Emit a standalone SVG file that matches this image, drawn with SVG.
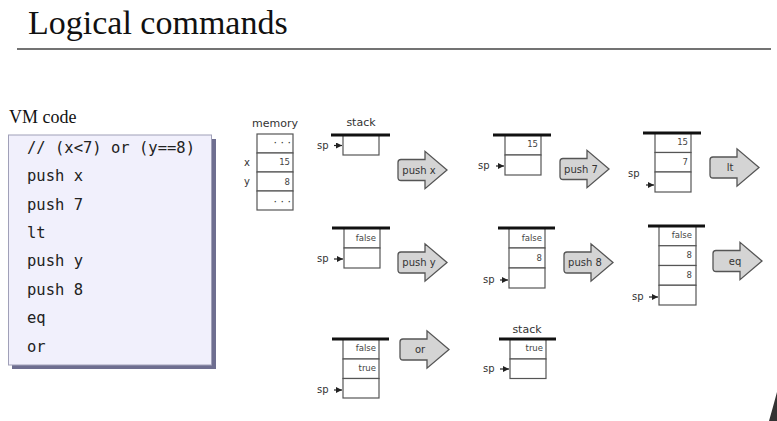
<svg xmlns="http://www.w3.org/2000/svg" width="777" height="421" viewBox="0 0 777 421">
<defs>
<style>
.title{font-family:"Liberation Serif","Times New Roman",serif;font-size:34px;fill:#111}
.sub{font-family:"Liberation Serif","Times New Roman",serif;font-size:18px;fill:#111}
.code{font-family:"DejaVu Sans Mono",monospace;font-size:15.5px;fill:#222}
.lbl{font-family:"DejaVu Sans",sans-serif;font-size:11px;fill:#333}
.sp{font-family:"DejaVu Sans",sans-serif;font-size:10px;fill:#333}
.val{font-family:"DejaVu Sans",sans-serif;font-size:8.5px;fill:#444;text-anchor:end}
.dots{font-family:"DejaVu Sans",sans-serif;font-size:11px;fill:#333;text-anchor:end}
.cell{fill:#fff;stroke:#555;stroke-width:1.2}
.bar{stroke:#111;stroke-width:3}
.arr{fill:#d4d4d4;stroke:#555;stroke-width:1.3}
.atxt{font-family:"DejaVu Sans",sans-serif;font-size:10px;fill:#333;text-anchor:middle}
.spl{stroke:#222;stroke-width:1.2;marker-end:url(#tri)}
</style>
<marker id="tri" viewBox="0 0 6 6" refX="6" refY="3" markerWidth="6" markerHeight="6" markerUnits="userSpaceOnUse" orient="auto">
<path d="M0,0 L6,3 L0,6 Z" fill="#222"/>
</marker>
<path id="bigarrow" d="M3,-10.5 H27 V-18.7 L49,0 L27,18.7 V10.5 H3 Q0,10.5 0,7.5 V-7.5 Q0,-10.5 3,-10.5 Z"/>
</defs>
<rect width="777" height="421" fill="#fff"/>

<g id="title">
<text class="title" x="28" y="34">Logical commands</text>
<line x1="17" y1="49" x2="771" y2="49" stroke="#444" stroke-width="1.6"/>
</g>

<g id="vmcode">
<text class="sub" x="9" y="123">VM code</text>
<rect x="12" y="139" width="204" height="230" fill="#6e6e90"/>
<rect x="8.5" y="135" width="203" height="230" fill="#f1f0fc" stroke="#a0a0b8" stroke-width="1"/>
<text class="code" x="27" y="153">// (x&lt;7) or (y==8)</text>
<text class="code" x="27" y="181">push x</text>
<text class="code" x="27" y="210">push 7</text>
<text class="code" x="27" y="238">lt</text>
<text class="code" x="27" y="266">push y</text>
<text class="code" x="27" y="295">push 8</text>
<text class="code" x="27" y="323">eq</text>
<text class="code" x="27" y="352">or</text>
</g>

<g id="memory">
<text class="lbl" x="275" y="127" text-anchor="middle">memory</text>
<rect class="cell" x="257" y="134" width="36" height="19"/>
<rect class="cell" x="257" y="153" width="36" height="19"/>
<rect class="cell" x="257" y="172" width="36" height="19"/>
<rect class="cell" x="257" y="191" width="36" height="19"/>
<text class="dots" x="291" y="146">· · ·</text>
<text class="val" x="290" y="165">15</text>
<text class="val" x="290" y="185">8</text>
<text class="dots" x="291" y="205">· · ·</text>
<text class="sp" x="244" y="166">x</text>
<text class="sp" x="244" y="185">y</text>
</g>

<g id="stack1">
<text class="lbl" x="361" y="126" text-anchor="middle">stack</text>
<rect class="cell" x="343" y="135" width="36" height="20"/>
<line class="bar" x1="331" y1="135" x2="390" y2="135"/>
<text class="sp" x="317" y="149">sp</text>
<line class="spl" x1="334" y1="145.5" x2="342" y2="145.5"/>
</g>

<g id="stack2">
<rect class="cell" x="505" y="135" width="36" height="20"/>
<rect class="cell" x="505" y="155" width="36" height="20"/>
<line class="bar" x1="493" y1="135" x2="551" y2="135"/>
<text class="val" x="538" y="147">15</text>
<text class="sp" x="478" y="169">sp</text>
<line class="spl" x1="496" y1="166" x2="504" y2="166"/>
</g>

<g id="stack3">
<rect class="cell" x="655" y="133" width="36" height="19.5"/>
<rect class="cell" x="655" y="152.5" width="36" height="19.5"/>
<rect class="cell" x="655" y="172" width="36" height="20"/>
<line class="bar" x1="643" y1="133" x2="701" y2="133"/>
<text class="val" x="688" y="145">15</text>
<text class="val" x="688" y="165">7</text>
<text class="sp" x="628" y="177">sp</text>
<line class="spl" x1="646" y1="185" x2="654" y2="185"/>
</g>

<g id="stack4">
<rect class="cell" x="344" y="228" width="36" height="20"/>
<rect class="cell" x="344" y="248" width="36" height="20"/>
<line class="bar" x1="332" y1="228" x2="390" y2="228"/>
<text class="val" x="376" y="241">false</text>
<text class="sp" x="317" y="262">sp</text>
<line class="spl" x1="334" y1="259" x2="343" y2="259"/>
</g>

<g id="stack5">
<rect class="cell" x="509" y="228" width="36" height="20"/>
<rect class="cell" x="509" y="248" width="36" height="20"/>
<rect class="cell" x="509" y="268" width="36" height="20"/>
<line class="bar" x1="498" y1="228" x2="555" y2="228"/>
<text class="val" x="542" y="241">false</text>
<text class="val" x="542" y="261">8</text>
<text class="sp" x="483" y="283">sp</text>
<line class="spl" x1="500" y1="280" x2="508" y2="280"/>
</g>

<g id="stack6">
<rect class="cell" x="659" y="226" width="37" height="19.75"/>
<rect class="cell" x="659" y="245.75" width="37" height="19.75"/>
<rect class="cell" x="659" y="265.5" width="37" height="19.75"/>
<rect class="cell" x="659" y="285.25" width="37" height="19.75"/>
<line class="bar" x1="648" y1="226" x2="705" y2="226"/>
<text class="val" x="692" y="238">false</text>
<text class="val" x="692" y="258">8</text>
<text class="val" x="692" y="278">8</text>
<text class="sp" x="632" y="300">sp</text>
<line class="spl" x1="649" y1="297" x2="658" y2="297"/>
</g>

<g id="stack7">
<rect class="cell" x="343" y="339" width="36" height="20"/>
<rect class="cell" x="343" y="359" width="36" height="19.5"/>
<rect class="cell" x="343" y="378.5" width="36" height="19.5"/>
<line class="bar" x1="332" y1="339" x2="389" y2="339"/>
<text class="val" x="376" y="351">false</text>
<text class="val" x="376" y="371">true</text>
<text class="sp" x="317" y="393">sp</text>
<line class="spl" x1="334" y1="390" x2="342" y2="390"/>
</g>

<g id="stack8">
<text class="lbl" x="527" y="333" text-anchor="middle">stack</text>
<rect class="cell" x="510" y="339" width="36" height="20"/>
<rect class="cell" x="510" y="359" width="36" height="19.5"/>
<line class="bar" x1="499" y1="339" x2="556" y2="339"/>
<text class="val" x="543" y="351">true</text>
<text class="sp" x="483" y="372">sp</text>
<line class="spl" x1="500" y1="369" x2="509" y2="369"/>
</g>

<g id="connectors">
<g transform="translate(398,170)"><use href="#bigarrow" class="arr"/><text class="atxt" x="21" y="3.5">push x</text></g>
<g transform="translate(560,169)"><use href="#bigarrow" class="arr"/><text class="atxt" x="21" y="3.5">push 7</text></g>
<g transform="translate(710,167.5)"><use href="#bigarrow" class="arr"/><text class="atxt" x="20" y="3.5">lt</text></g>
<g transform="translate(398,262.5)"><use href="#bigarrow" class="arr"/><text class="atxt" x="21" y="3.5">push y</text></g>
<g transform="translate(564,262.5)"><use href="#bigarrow" class="arr"/><text class="atxt" x="21" y="3.5">push 8</text></g>
<g transform="translate(713,261)"><use href="#bigarrow" class="arr"/><text class="atxt" x="22" y="3.5">eq</text></g>
<g transform="translate(400,349.5)"><use href="#bigarrow" class="arr"/><text class="atxt" x="20" y="3.5">or</text></g>
</g>

<path d="M777,392 Q773,407 769,421 L777,421 Z" fill="#333"/>
</svg>
